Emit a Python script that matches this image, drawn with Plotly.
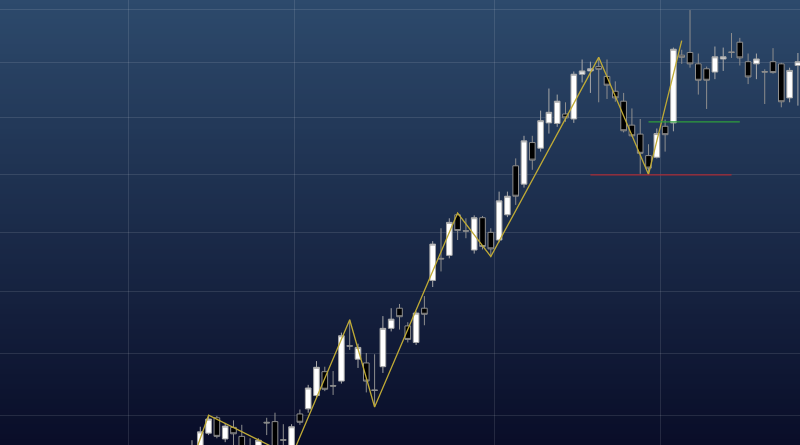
import plotly.graph_objs as go

# bar index (uniform spacing) and OHLC
bars = list(range(74))

opens = [343.5, 344.8, 347.3, 349.7, 346.4, 348.2, 346.8, 345.0, 344.2, 349.0,
         349.1, 346.3, 344.5, 350.3, 351.1, 353.2, 357.0, 354.8, 355.5, 361.2,
         359.0, 358.4, 354.1, 357.8, 364.0, 367.3, 364.4, 361.7, 367.3, 371.9,
         375.6, 376.1, 383.0, 380.3, 377.0, 382.5, 380.0, 378.7, 383.0, 391.5,
         388.3, 395.6, 394.6, 399.1, 399.0, 400.7, 399.8, 407.9, 408.5, 409.3,
         407.5, 404.8, 403.0, 398.7, 397.1, 393.3, 393.0, 398.5, 399.1, 411.4,
         411.9, 409.8, 408.9, 408.3, 410.7, 412.0, 413.8, 410.2, 409.8, 408.4,
         410.2, 409.8, 403.6, 409.5]
highs = [346.2, 348.3, 350.1, 350.0, 348.9, 349.3, 348.6, 346.5, 346.5, 349.7,
         350.5, 348.7, 348.7, 351.0, 354.9, 358.7, 357.8, 357.1, 363.3, 365.4,
         361.5, 360.0, 359.8, 366.0, 367.3, 368.0, 365.0, 366.8, 369.3, 378.5,
         380.7, 382.4, 383.3, 382.4, 382.9, 382.8, 380.7, 387.0, 387.0, 392.8,
         396.8, 396.8, 401.3, 405.3, 404.2, 402.8, 408.4, 410.6, 410.2, 411.0,
         410.6, 406.6, 404.5, 401.7, 399.8, 395.3, 398.1, 399.7, 412.8, 412.4,
         419.8, 411.7, 409.3, 413.0, 412.8, 415.5, 414.6, 411.7, 411.7, 408.8,
         412.7, 410.0, 409.1, 411.8]
lows = [342.9, 344.0, 347.0, 346.5, 345.9, 345.0, 344.0, 343.8, 343.9, 347.0,
        343.9, 344.2, 343.7, 348.6, 350.5, 352.9, 353.9, 353.3, 355.1, 360.5,
        357.6, 353.7, 351.4, 356.8, 363.5, 363.8, 361.7, 361.3, 364.5, 370.8,
        373.4, 375.6, 378.7, 379.0, 376.4, 377.1, 375.9, 378.3, 382.6, 384.7,
        387.7, 390.8, 394.0, 397.2, 398.4, 399.3, 399.1, 406.4, 404.5, 402.8,
        403.4, 402.9, 397.4, 396.7, 390.1, 390.0, 392.8, 394.0, 397.6, 409.8,
        409.1, 404.2, 401.6, 407.0, 408.5, 410.9, 409.5, 406.1, 407.0, 402.5,
        408.0, 401.9, 402.8, 402.2]
closes = [345.0, 347.5, 349.5, 346.8, 348.4, 347.2, 344.5, 344.6, 346.2, 348.9,
          344.3, 346.2, 348.3, 349.0, 354.4, 357.7, 354.2, 354.7, 362.8, 361.1,
          360.9, 355.5, 354.0, 364.0, 365.5, 365.9, 362.2, 366.5, 366.3, 378.0,
          375.5, 381.7, 380.3, 380.2, 382.5, 377.6, 377.2, 385.4, 386.2, 386.2,
          395.9, 392.5, 399.5, 401.0, 403.0, 400.0, 407.9, 408.5, 408.9, 408.8,
          405.9, 403.6, 397.7, 396.8, 393.7, 391.1, 397.2, 397.0, 412.5, 411.0,
          409.8, 406.8, 406.8, 411.1, 411.1, 411.9, 410.9, 407.4, 410.7, 408.3,
          408.2, 402.9, 408.6, 410.2]

# zigzag pivots
zz_bars = [0, 2, 12, 19, 22, 32, 36, 49, 55, 59]
zz_vals = [342.9, 350.1, 343.7, 365.4, 351.4, 383.3, 375.9, 411.0, 390.0, 414.1]

# horizontal levels
green_level = 399.3
green_span = [55, 66]
red_level = 389.9
red_span = [48, 65]

# grid positions
x_grid = [-7.6, 12.4, 36.5, 56.4]
y_grid = [350, 360, 370, 380, 390, 400, 410, 420]

fig = go.Figure()

fig.add_trace(go.Candlestick(
    x=bars, open=opens, high=highs, low=lows, close=closes,
    increasing=dict(line=dict(color="#a8a8a8", width=1), fillcolor="#ffffff"),
    decreasing=dict(line=dict(color="#8e8e8e", width=1), fillcolor="#000000"),
    whiskerwidth=0, showlegend=False, name="candles",
))

fig.add_trace(go.Scatter(x=zz_bars, y=zz_vals, mode="lines",
                         line=dict(color="#bfaa36", width=1.3), showlegend=False))
fig.add_trace(go.Scatter(x=green_span, y=[green_level] * 2, mode="lines",
                         line=dict(color="#2f9e3c", width=1.2), showlegend=False))
fig.add_trace(go.Scatter(x=red_span, y=[red_level] * 2, mode="lines",
                         line=dict(color="#a82833", width=1.2), showlegend=False))

# vertical background gradient
top = (45, 74, 108)
bot = (9, 13, 40)
n = 89
shapes = []
for i in range(n):
    t = (i + 0.5) / n
    c = tuple(int(round(top[j] + (bot[j] - top[j]) * t)) for j in range(3))
    shapes.append(dict(type="rect", xref="paper", yref="paper",
                       x0=0, x1=1, y0=1 - (i + 1) / n, y1=1 - i / n + 0.002,
                       fillcolor="rgb(%d,%d,%d)" % c, line=dict(width=0),
                       layer="below"))

fig.update_layout(
    width=800, height=445, autosize=False,
    margin=dict(l=0, r=0, t=0, b=0),
    paper_bgcolor="rgb(9,13,40)", plot_bgcolor="rgba(0,0,0,0)",
    shapes=shapes, boxgap=0.32, boxgroupgap=0,
    xaxis=dict(range=[-23.13, 73.25], tickvals=x_grid, showticklabels=False,
               showgrid=True, gridcolor="rgba(255,255,255,0.11)", gridwidth=1,
               zeroline=False, showline=False, rangeslider=dict(visible=False),
               fixedrange=True),
    yaxis=dict(type="log", range=[2.5384, 2.6250], tickvals=y_grid,
               showticklabels=False, showgrid=True,
               gridcolor="rgba(255,255,255,0.11)", gridwidth=1,
               zeroline=False, showline=False, fixedrange=True),
)

fig.write_html("out.html", config=dict(displayModeBar=False),
               post_script="document.body.style.margin='0';")
